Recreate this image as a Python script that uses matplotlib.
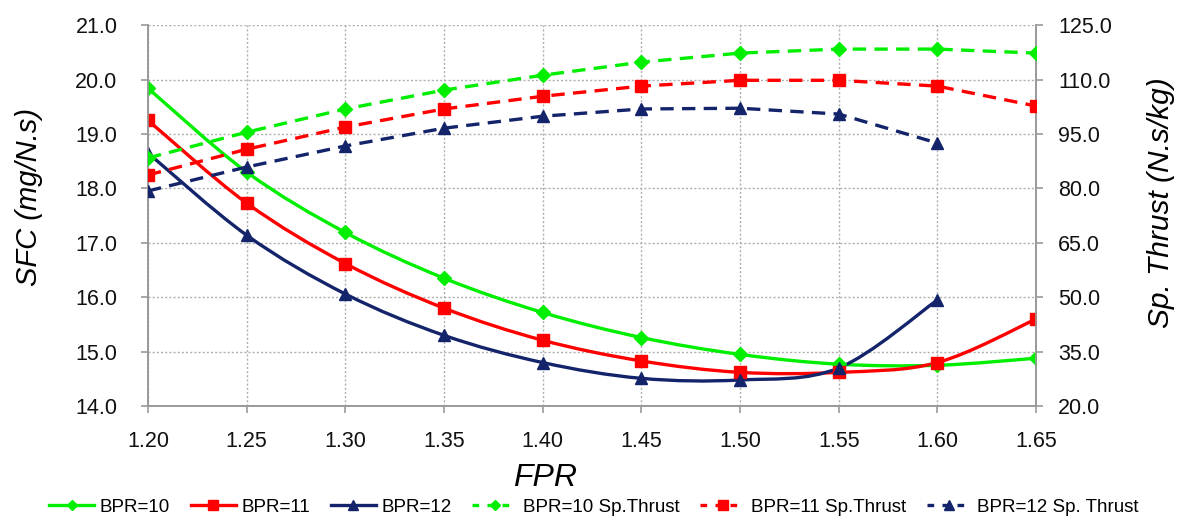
import matplotlib
matplotlib.use("Agg")
import matplotlib.pyplot as plt
from matplotlib.path import Path
from matplotlib.patches import PathPatch
from matplotlib.lines import Line2D

plt.rcParams['font.family'] = ['Liberation Sans', 'DejaVu Sans']

# data
fpr = [1.20, 1.25, 1.30, 1.35, 1.40, 1.45, 1.50, 1.55, 1.60, 1.65]

sfc_bpr10 = [19.84, 18.30, 17.19, 16.35, 15.72, 15.26, 14.95, 14.77, 14.75, 14.88]
sfc_bpr11 = [19.25, 17.73, 16.62, 15.80, 15.21, 14.83, 14.62, 14.62, 14.80, 15.60]
sfc_bpr12 = [18.65, 17.14, 16.06, 15.30, 14.80, 14.51, 14.48, 14.70, 15.95]

thr_bpr10 = [88.4, 95.5, 101.9, 107.1, 111.2, 114.8, 117.3, 118.4, 118.4, 117.3]
thr_bpr11 = [83.7, 90.8, 96.9, 101.9, 105.4, 108.2, 109.8, 109.8, 108.2, 102.7]
thr_bpr12 = [79.3, 85.9, 91.7, 96.6, 99.9, 101.9, 102.1, 100.5, 92.5]

left_ticks = [14.0, 15.0, 16.0, 17.0, 18.0, 19.0, 20.0, 21.0]
right_ticks = [20.0, 35.0, 50.0, 65.0, 80.0, 95.0, 110.0, 125.0]

GREEN = "#00ee00"
RED = "#ff0000"
NAVY = "#14246b"


def smooth_path(xs, ys, tension=1.0 / 6):
    # excel-like smoothed line: cubic bezier segments through the points
    verts = [(xs[0], ys[0])]
    codes = [Path.MOVETO]
    n = len(xs)
    for i in range(n - 1):
        x0, y0 = (xs[i - 1], ys[i - 1]) if i > 0 else (xs[i], ys[i])
        x1, y1 = xs[i], ys[i]
        x2, y2 = xs[i + 1], ys[i + 1]
        x3, y3 = (xs[i + 2], ys[i + 2]) if i + 2 < n else (x2, y2)
        c1 = (x1 + (x2 - x0) * tension, y1 + (y2 - y0) * tension)
        c2 = (x2 - (x3 - x1) * tension, y2 - (y3 - y1) * tension)
        verts += [c1, c2, (x2, y2)]
        codes += [Path.CURVE4] * 3
    return Path(verts, codes)


fig = plt.figure(figsize=(11.88, 5.24), dpi=100)
ax = fig.add_axes([0.1246, 0.225, 0.7475, 0.727])
ax2 = ax.twinx()

lw = 2.4
series_left = [
    (sfc_bpr10, GREEN, "D", 7, "BPR=10"),
    (sfc_bpr11, RED, "s", 9, "BPR=11"),
    (sfc_bpr12, NAVY, "^", 9, "BPR=12"),
]
for ys, col, mk, ms, lab in series_left:
    xs = fpr[:len(ys)]
    ax.add_patch(PathPatch(smooth_path(xs, ys), facecolor="none",
                           edgecolor=col, lw=lw, zorder=3))
    ax.plot(xs, ys, linestyle="none", color=col, marker=mk, ms=ms, zorder=4)

series_right = [
    (thr_bpr10, GREEN, "D", 7, "BPR=10 Sp.Thrust"),
    (thr_bpr11, RED, "s", 9, "BPR=11 Sp.Thrust"),
    (thr_bpr12, NAVY, "^", 9, "BPR=12 Sp. Thrust"),
]
for ys, col, mk, ms, lab in series_right:
    xs = fpr[:len(ys)]
    ax2.plot(xs, ys, linestyle=(0, (4, 2.5)), color=col, lw=lw, marker=mk,
             ms=ms, zorder=4)

ax.set_xlim(1.20, 1.65)
ax.set_ylim(14.0, 21.0)
ax2.set_ylim(20.0, 125.0)
ax.set_xticks(fpr)
ax.set_xticklabels(["%.2f" % v for v in fpr])
ax.set_yticks(left_ticks)
ax.set_yticklabels(["%.1f" % v for v in left_ticks])
ax2.set_yticks(right_ticks)
ax2.set_yticklabels(["%.1f" % v for v in right_ticks])

ax.grid(True, color="#b0b0b0", linestyle=(0, (1.5, 1.5)), lw=1.0)
ax.set_axisbelow(True)

for a in (ax, ax2):
    for sp in a.spines.values():
        sp.set_color("#999999")
        sp.set_linewidth(1.2)
    a.spines["top"].set_visible(False)
    a.tick_params(colors="#999999", labelcolor="#111111", labelsize=15.5,
                  length=5, width=1.2)
ax.tick_params(axis="x", pad=13)
ax.tick_params(axis="y", pad=17)
ax2.tick_params(axis="y", pad=11)

ax.set_ylabel("SFC (mg/N.s)", fontsize=21, style="italic")
ax.yaxis.set_label_coords(-0.118, 0.55)
ax2.set_ylabel("Sp. Thrust (N.s/kg)", fontsize=21.5, style="italic")
ax2.yaxis.set_label_coords(1.125, 0.535)
ax.set_xlabel("FPR", fontsize=23, style="italic")
ax.xaxis.set_label_coords(0.447, -0.15)

# legend built from proxy artists
leg_handles = []
for ys, col, mk, ms, lab in series_left:
    leg_handles.append(Line2D([], [], color=col, lw=lw, marker=mk, ms=ms * 0.8, label=lab))
for ys, col, mk, ms, lab in series_right:
    leg_handles.append(Line2D([], [], color=col, lw=lw, linestyle=(0, (2, 2.5)),
                              marker=mk, ms=ms * 0.8, label=lab))
fig.legend(handles=leg_handles, loc="center", bbox_to_anchor=(0.5, 0.032),
           ncol=6, frameon=False, fontsize=13.5, handlelength=2.4,
           handletextpad=0.3, columnspacing=1.1)

fig.savefig("out.png", dpi=100)
